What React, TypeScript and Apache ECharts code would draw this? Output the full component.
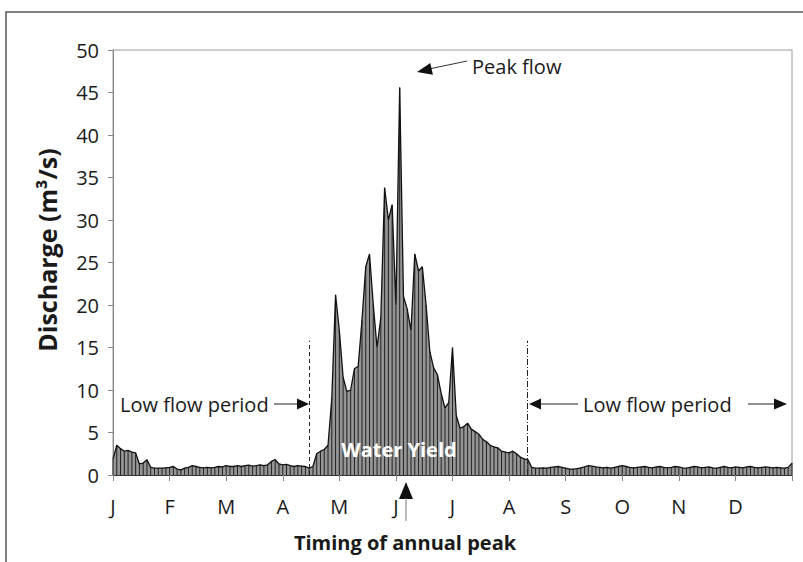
import React, { useEffect, useRef } from "react";
import * as echarts from "echarts";

const MONTHS = ["J", "F", "M", "A", "M", "J", "J", "A", "S", "O", "N", "D"];
// samples every 1/15 month (~2 days), discharge in m3/s
const FLOW = [
  1.9, 3.5, 3.1, 2.8, 2.9, 2.7, 2.6, 1.3, 1.4, 1.8,
  0.9, 0.8, 0.8, 0.8, 0.85, 0.9, 1.0, 0.7, 0.6, 0.8,
  0.9, 1.1, 1.0, 0.9, 0.85, 0.9, 0.85, 0.9, 1.0, 0.95,
  1.1, 1.0, 1.0, 1.1, 1.0, 1.1, 1.15, 1.05, 1.1, 1.2,
  1.1, 1.2, 1.6, 1.8, 1.3, 1.2, 1.25, 1.1, 1.0, 1.1,
  1.05, 1.0, 0.8, 1.0, 2.5, 2.8, 3.0, 3.5, 9.0, 21.2,
  17.0, 11.5, 9.8, 10.0, 12.5, 12.8, 18.2, 24.5, 26.0, 20.0,
  15.0, 18.5, 33.8, 30.0, 31.8, 20.0, 45.6, 21.0, 19.5, 17.0,
  26.0, 24.0, 24.5, 20.0, 14.5, 12.6, 11.8, 9.6, 7.9, 8.5,
  15.0, 7.0, 5.5, 5.7, 6.1, 5.4, 5.1, 4.8, 4.2, 3.9,
  3.5, 3.3, 3.2, 2.8, 2.7, 2.6, 2.8, 2.5, 2.1, 1.9,
  1.8, 0.9, 0.8, 0.8, 0.85, 0.8, 0.9, 0.95, 1.0, 0.9,
  0.8, 0.7, 0.7, 0.75, 0.85, 0.95, 1.1, 1.05, 0.95, 0.9,
  0.85, 0.9, 0.8, 0.9, 1.0, 1.1, 1.0, 0.9, 0.85, 0.9,
  0.95, 1.0, 0.9, 0.85, 0.95, 1.0, 0.9, 0.85, 0.9, 1.0,
  0.95, 0.85, 0.8, 0.9, 1.0, 0.95, 0.85, 0.9, 0.95, 0.85,
  0.8, 0.9, 1.0, 0.9, 0.85, 0.95, 0.9, 0.85, 0.95, 1.0,
  0.9, 0.85, 0.9, 0.95, 0.9, 0.85, 0.9, 0.85, 0.8, 0.9, 1.4,
];
const SAMPLES_PER_MONTH = 15;
const LOW_FLOW_END = 3.473; // month position of dashed line
const LOW_FLOW_START = 7.325; // month position of dash-dot line
const MARKER_TOP = 15.8;

const FONT = "'Open Sans', 'Noto Sans', sans-serif";

export default function App() {
  const ref = useRef<HTMLDivElement>(null);
  useEffect(() => {
    if (!ref.current) return;
    const chart = echarts.init(ref.current, undefined, { renderer: "svg" });
    const data = FLOW.map((v, i) => [i / SAMPLES_PER_MONTH, v]);
    const txt = { fontFamily: FONT, fontSize: 20, fill: "#1a1a1a" };
    chart.setOption({
      animation: false,
      backgroundColor: "#fff",
      grid: {
        left: 113,
        top: 50,
        right: 11,
        bottom: 87,
        show: true,
        borderColor: "#9a9a9a",
        borderWidth: 1,
      },
      xAxis: {
        type: "value",
        min: 0,
        max: 12,
        interval: 1,
        axisLine: { show: true, lineStyle: { color: "#333", width: 1 } },
        axisTick: { show: true, length: 6, lineStyle: { color: "#888" } },
        axisLabel: {
          margin: 21,
          fontFamily: FONT,
          fontSize: 20,
          color: "#1a1a1a",
          formatter: (v: number) => MONTHS[Math.round(v)] ?? "",
        },
        splitLine: { show: false },
      },
      yAxis: {
        type: "value",
        min: 0,
        max: 50,
        interval: 5,
        axisLine: { show: true, lineStyle: { color: "#8a8a8a", width: 1 } },
        axisTick: { show: true, length: 5, lineStyle: { color: "#8a8a8a" } },
        axisLabel: { margin: 14, fontFamily: FONT, fontSize: 20, color: "#1a1a1a" },
        splitLine: { show: false },
      },
      series: [
        {
          type: "line",
          data,
          symbol: "none",
          lineStyle: { width: 0 },
          areaStyle: { color: "#959595", opacity: 1 },
          z: 1,
          markLine: {
            silent: true,
            symbol: "none",
            label: { show: false },
            data: [
              [
                { coord: [LOW_FLOW_END, 0], lineStyle: { type: [4, 3], color: "#222", width: 1 } },
                { coord: [LOW_FLOW_END, MARKER_TOP] },
              ],
              [
                { coord: [LOW_FLOW_START, 0], lineStyle: { type: [6, 2, 1, 2], color: "#222", width: 1 } },
                { coord: [LOW_FLOW_START, MARKER_TOP] },
              ],
            ],
          },
        },
        {
          type: "bar",
          data,
          barWidth: 1,
          itemStyle: { color: "#222" },
          z: 2,
        },
        {
          type: "line",
          data,
          symbol: "none",
          lineStyle: { color: "#111", width: 1.3 },
          z: 3,
        },
      ],
      graphic: [
        {
          type: "rect",
          shape: { x: 6, y: 12, width: 900, height: 700 },
          style: { fill: "none", stroke: "#555", lineWidth: 1.5 },
          silent: true,
        },
        {
          type: "text",
          x: 47,
          y: 250,
          rotation: Math.PI / 2,
          style: {
            text: "Discharge (m³/s)",
            fontFamily: FONT,
            fontSize: 25,
            fontWeight: "bold",
            fill: "#1a1a1a",
            align: "center",
            verticalAlign: "middle",
          },
        },
        {
          type: "text",
          x: 405,
          y: 542,
          style: {
            text: "Timing of annual peak",
            fontFamily: FONT,
            fontSize: 20,
            fontWeight: "bold",
            fill: "#1a1a1a",
            align: "center",
            verticalAlign: "middle",
          },
        },
        // left low flow label + arrow
        { type: "text", x: 120, y: 404, style: { ...txt, text: "Low flow period", align: "left", verticalAlign: "middle" } },
        { type: "line", shape: { x1: 274, y1: 404, x2: 300, y2: 404 }, style: { stroke: "#222", lineWidth: 1 } },
        { type: "polygon", shape: { points: [[297, 398.5], [309, 404], [297, 409.5]] }, style: { fill: "#111" } },
        // right low flow label + arrows
        { type: "polygon", shape: { points: [[541, 398.5], [529, 404], [541, 409.5]] }, style: { fill: "#111" } },
        { type: "line", shape: { x1: 540, y1: 404, x2: 578, y2: 404 }, style: { stroke: "#222", lineWidth: 1 } },
        { type: "text", x: 583, y: 404, style: { ...txt, text: "Low flow period", align: "left", verticalAlign: "middle" } },
        { type: "line", shape: { x1: 748, y1: 404, x2: 776, y2: 404 }, style: { stroke: "#222", lineWidth: 1 } },
        { type: "polygon", shape: { points: [[774, 398.5], [787, 404], [774, 409.5]] }, style: { fill: "#111" } },
        // peak flow
        { type: "text", x: 472, y: 66, style: { ...txt, text: "Peak flow", align: "left", verticalAlign: "middle" } },
        { type: "line", shape: { x1: 430, y1: 68.8, x2: 467, y2: 61 }, style: { stroke: "#333", lineWidth: 1 } },
        { type: "polygon", shape: { points: [[417, 72], [432.9, 74.7], [430.3, 62.9]] }, style: { fill: "#111" } },
        // water yield
        {
          type: "text",
          x: 399,
          y: 449,
          z: 10,
          style: {
            text: "Water Yield",
            fontFamily: FONT,
            fontSize: 20,
            fontWeight: "bold",
            fill: "#fff",
            align: "center",
            verticalAlign: "middle",
          },
        },
        // timing arrow
        { type: "polygon", shape: { points: [[406, 482], [399, 499], [413, 499]] }, style: { fill: "#111" } },
        { type: "line", shape: { x1: 406, y1: 498, x2: 406, y2: 521 }, style: { stroke: "#777", lineWidth: 1 } },
      ],
    });
    return () => chart.dispose();
  }, []);
  return (
    <div
      ref={ref}
      style={{ position: "fixed", left: 0, top: 0, width: 803, height: 562, background: "#fff" }}
    />
  );
}
